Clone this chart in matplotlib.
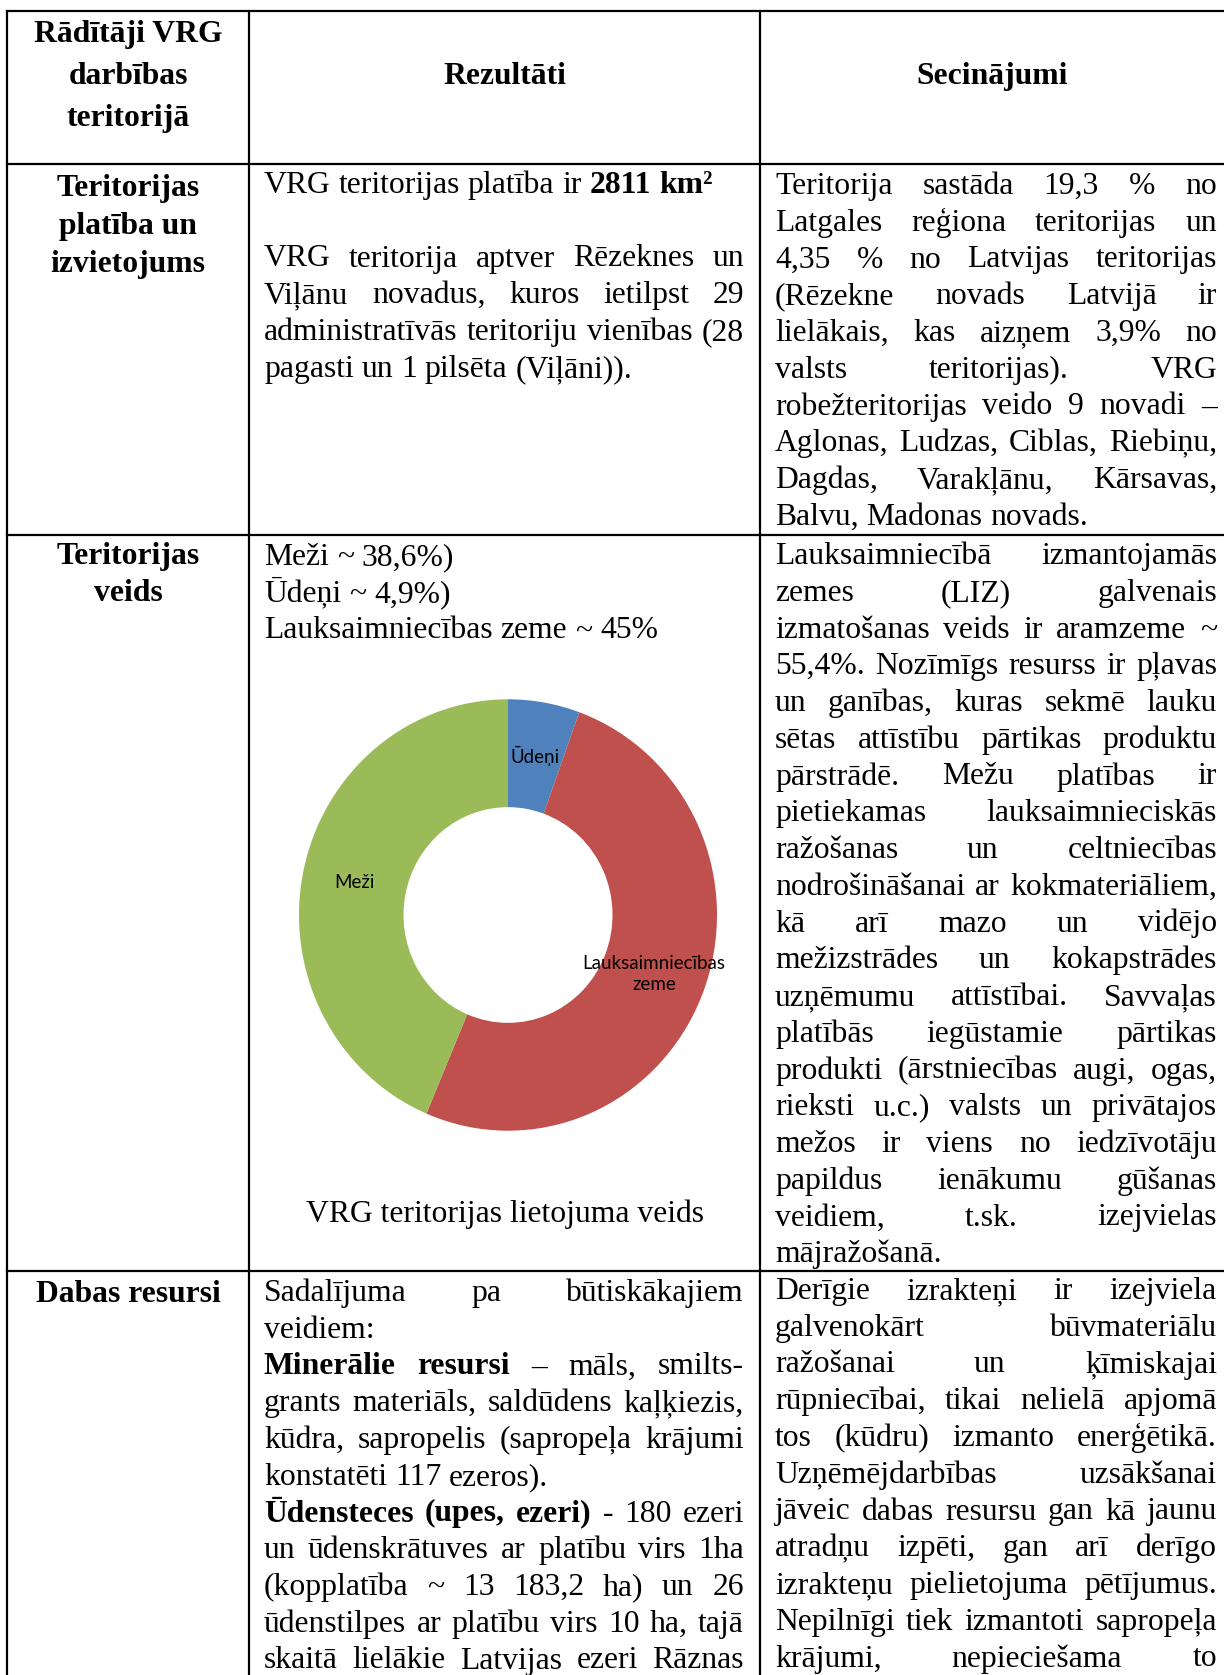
import matplotlib
matplotlib.use('Agg')
import matplotlib.pyplot as plt
import numpy as np

# ---------------- data ----------------
categories = ['Ūdeņi', 'Lauksaimniecības\nzeme', 'Meži']
shares = [4.9, 45, 38.6]
colors = ['#4F81BD', '#C0504D', '#9BBB59']
caption = 'VRG teritorijas lietojuma veids'

header_col1 = ['Rādītāji VRG', 'darbības', 'teritorijā']
header_col2 = 'Rezultāti'
header_col3 = 'Secinājumi'

row1_col1 = ['Teritorijas', 'platība un', 'izvietojums']
row1_col2 = [('VRG teritorijas platība ir *2811 *km²', False),
             ('', False),
             ('VRG teritorija aptver Rēzeknes un', True),
             ('Viļānu novadus, kuros ietilpst 29', True),
             ('administratīvās teritoriju vienības (28', True),
             ('pagasti un 1 pilsēta (Viļāni)).', False)]
row1_col3 = [('Teritorija sastāda 19,3 % no', True),
             ('Latgales reģiona teritorijas un', True),
             ('4,35 % no Latvijas teritorijas', True),
             ('(Rēzekne novads Latvijā ir', True),
             ('lielākais, kas aizņem 3,9% no', True),
             ('valsts teritorijas). VRG', True),
             ('robežteritorijas veido 9 novadi –', True),
             ('Aglonas, Ludzas, Ciblas, Riebiņu,', True),
             ('Dagdas, Varakļānu, Kārsavas,', True),
             ('Balvu, Madonas novads.', False)]

row2_col1 = ['Teritorijas', 'veids']
row2_col2 = [('Meži ~ 38,6%)', False),
             ('Ūdeņi ~ 4,9%)', False),
             ('Lauksaimniecības zeme ~ 45%', False)]
row2_col3 = [('Lauksaimniecībā izmantojamās', True),
             ('zemes (LIZ) galvenais', True),
             ('izmatošanas veids ir aramzeme ~', True),
             ('55,4%. Nozīmīgs resurss ir pļavas', True),
             ('un ganības, kuras sekmē lauku', True),
             ('sētas attīstību pārtikas produktu', True),
             ('pārstrādē. Mežu platības ir', True),
             ('pietiekamas lauksaimnieciskās', True),
             ('ražošanas un celtniecības', True),
             ('nodrošināšanai ar kokmateriāliem,', True),
             ('kā arī mazo un vidējo', True),
             ('mežizstrādes un kokapstrādes', True),
             ('uzņēmumu attīstībai. Savvaļas', True),
             ('platībās iegūstamie pārtikas', True),
             ('produkti (ārstniecības augi, ogas,', True),
             ('rieksti u.c.) valsts un privātajos', True),
             ('mežos ir viens no iedzīvotāju', True),
             ('papildus ienākumu gūšanas', True),
             ('veidiem, t.sk. izejvielas', True),
             ('mājražošanā.', False)]

row3_col1 = ['Dabas resursi']
row3_col2 = [('Sadalījuma pa būtiskākajiem', True),
             ('veidiem:', False),
             ('*Minerālie *resursi – māls, smilts-', True),
             ('grants materiāls, saldūdens kaļķiezis,', True),
             ('kūdra, sapropelis (sapropeļa krājumi', True),
             ('konstatēti 117 ezeros).', False),
             ('*Ūdensteces *(upes, *ezeri) - 180 ezeri', True),
             ('un ūdenskrātuves ar platību virs 1ha', True),
             ('(kopplatība ~ 13 183,2 ha) un 26', True),
             ('ūdenstilpes ar platību virs 10 ha, tajā', True),
             ('skaitā lielākie Latvijas ezeri Rāznas', True)]
row3_col3 = [('Derīgie izrakteņi ir izejviela', True),
             ('galvenokārt būvmateriālu', True),
             ('ražošanai un ķīmiskajai', True),
             ('rūpniecībai, tikai nelielā apjomā', True),
             ('tos (kūdru) izmanto enerģētikā.', True),
             ('Uzņēmējdarbības uzsākšanai', True),
             ('jāveic dabas resursu gan kā jaunu', True),
             ('atradņu izpēti, gan arī derīgo', True),
             ('izrakteņu pielietojuma pētījumus.', True),
             ('Nepilnīgi tiek izmantoti sapropeļa', True),
             ('krājumi, nepieciešama to', True)]

# ---------------- layout ----------------
W, H = 1224, 1675
fig = plt.figure(figsize=(W / 100, H / 100), dpi=100)
ax = fig.add_axes([0, 0, 1, 1])
ax.set_xlim(0, W)
ax.set_ylim(H, 0)
ax.axis('off')

SERIF = 'Liberation Serif'
FS = 22.8
LS = 36.75
renderer = fig.canvas.get_renderer()

# grid
XL, XC1, XC2, XR = 7, 249, 760, W
YT, YH, Y1, Y2 = 11, 164, 535, 1271
lw = 1.6
for x in (XL, XC1, XC2):
    ax.plot([x, x], [YT, H], color='black', lw=lw, solid_capstyle='projecting')
for y in (YT, YH, Y1, Y2):
    ax.plot([XL, XR], [y, y], color='black', lw=lw, solid_capstyle='projecting')

_cache = {}
def width(s, bold):
    key = (s, bold)
    if key not in _cache:
        t = ax.text(0, 0, s, fontsize=FS, family=SERIF,
                    weight='bold' if bold else 'normal')
        _cache[key] = t.get_window_extent(renderer).width
        t.remove()
    return _cache[key]

SPACE = 0.25 * FS * 100 / 72

def draw_line(x0, x1, y, line, justify):
    if not line:
        return
    toks = line.split(' ')
    words = [(t[1:], True) if t.startswith('*') else (t, False) for t in toks]
    ws = [width(s, b) for s, b in words]
    if justify and len(words) > 1:
        gap = (x1 - x0 - sum(ws)) / (len(words) - 1)
    else:
        gap = SPACE
    x = x0
    for (s, b), w in zip(words, ws):
        ax.text(x, y, s, fontsize=FS, family=SERIF, va='baseline', ha='left',
                weight='bold' if b else 'normal')
        x += w + gap

def paragraph(x0, x1, y0, lines):
    for i, (ln, j) in enumerate(lines):
        draw_line(x0, x1, y0 + i * LS, ln, j)

def centered(xc, y0, lines, step):
    for i, ln in enumerate(lines):
        ax.text(xc, y0 + i * step, ln, fontsize=FS, family=SERIF, weight='bold',
                va='baseline', ha='center')

C1 = (XL + XC1) / 2
C2X0, C2X1 = 264, 744
C3X0, C3X1 = 775, 1217

# header
centered(C1, 42, header_col1, 42)
centered((XC1 + XC2) / 2, 84, [header_col2], 0)
centered((XC2 + XR) / 2, 84, [header_col3], 0)

# row 1
centered(C1, 196, row1_col1, 38)
paragraph(C2X0, C2X1, 193, row1_col2)
paragraph(C3X0, C3X1, 194, row1_col3)

# row 2
centered(C1, 564, row2_col1, 37)
paragraph(C2X0, C2X1, 565, row2_col2)
paragraph(C3X0, C3X1, 564, row2_col3)
ax.text((XC1 + XC2) / 2, 1222, caption, fontsize=FS, family=SERIF,
        va='baseline', ha='center')

# row 3
centered(C1, 1302, row3_col1, 0)
paragraph(C2X0, C2X1, 1301, row3_col2)
paragraph(C3X0, C3X1, 1299, row3_col3)

# ---------------- donut ----------------
cx, cy, rx, ry = 508, 915, 209, 215.7
pax = fig.add_axes([(cx - rx) / W, 1 - (cy + ry) / H, 2 * rx / W, 2 * ry / H])
wedges, _ = pax.pie(shares, colors=colors, startangle=90, counterclock=False,
                    radius=1, wedgeprops=dict(width=0.5, linewidth=0))
pax.set_aspect('auto')
pax.set_xlim(-1, 1)
pax.set_ylim(-1, 1)
pax.axis('off')
for w, lab in zip(wedges, categories):
    mid = np.deg2rad((w.theta1 + w.theta2) / 2)
    pax.text(0.75 * np.cos(mid), 0.75 * np.sin(mid), lab, ha='center', va='center',
             family='Lato', fontsize=13.5, linespacing=1.25, color='black')

fig.savefig('out.png', dpi=100)
